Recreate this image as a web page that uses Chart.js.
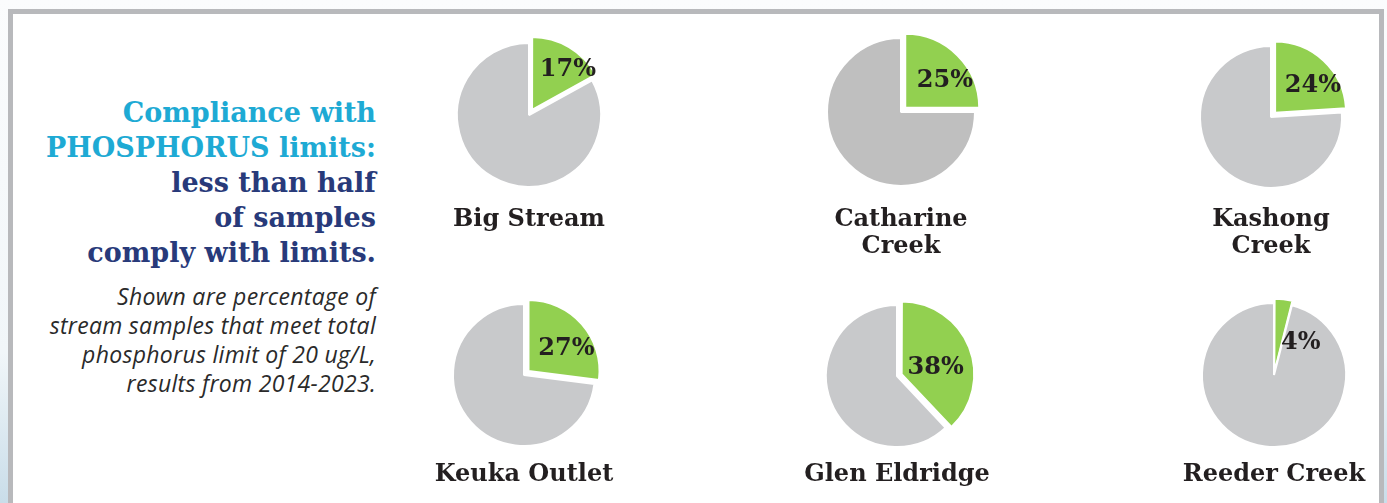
<!DOCTYPE html>
<html>
<head>
<meta charset="utf-8">
<script src="https://cdn.jsdelivr.net/npm/chart.js@4"></script>
<style>
  html, body { margin: 0; padding: 0; }
  body { width: 1387px; height: 503px; position: relative; overflow: hidden;
         background: linear-gradient(to bottom, #fbfcfd 0%, #f1f6f9 70%, #c9dde9 100%); }
  .frame { position: absolute; left: 8px; top: 9px; width: 1366px; height: 520px;
           border: 5px solid #b8b9bc; border-bottom: none; background: #fff; }
  .title { position: absolute; right: 1011px; top: 95px; text-align: right;
           font: bold 27px/35px "DejaVu Serif", "Liberation Serif", serif; color: #283a7a; white-space: pre; }
  .title .hi { color: #1eaad4; }
  .note { position: absolute; right: 1011px; top: 282px; text-align: right; letter-spacing: .3px;
          font: italic 23px/29px "Open Sans", sans-serif; color: #2a2a2a; white-space: pre; }
  .pie { position: absolute; }
  .name { position: absolute; width: 260px; text-align: center; white-space: pre-line;
          font: bold 24px/27px "DejaVu Serif", "Liberation Serif", serif; color: #231f20; }
</style>
</head>
<body>
<div class="frame"></div>
<div class="title"><span class="hi">Compliance with
PHOSPHORUS limits:</span>
less than half
of samples
comply with limits.</div>
<div class="note">Shown are percentage of
stream samples that meet total
phosphorus limit of 20 ug/L,
results from 2014-2023.</div>
<div id="pies"></div>
<script>
/* Share of stream samples meeting the 20 ug/L total phosphorus limit, 2014-2023 */
const sites = ['Big Stream', 'Catharine\nCreek', 'Kashong\nCreek', 'Keuka Outlet', 'Glen Eldridge', 'Reeder Creek'];
const compliant = [17, 25, 24, 27, 38, 4];

const GREEN = '#92d050';
const GREY = '#c8c9cb';

// pie centre, radius, slice pull-out and name position per site
const layout = [
  { x: 529, y: 115, r: 72, off: 24, ny: 204 },
  { x: 901, y: 112, r: 74, off: 24, ny: 204, grey: '#bfbfbf' },
  { x: 1271, y: 117, r: 71, off: 24, ny: 204 },
  { x: 524, y: 375, r: 71, off: 24, ny: 459 },
  { x: 897, y: 376, r: 71, off: 20, ny: 459 },
  { x: 1274, y: 375, r: 72, off: 10, ny: 459 }
];

const SIZE = 190;
const DEG = Math.PI / 180;

// percentage text inside the green slice (or just beside it when the slice is too thin)
const pctLabel = {
  id: 'pctLabel',
  afterDatasetsDraw(chart) {
    const arc = chart.getDatasetMeta(0).data[0];
    const val = chart.data.datasets[0].data[0];
    const mid = (arc.startAngle + arc.endAngle) / 2 + Math.PI / 2;
    const a = Math.max(mid + 10 * DEG, 40 * DEG);
    const d = arc.outerRadius * (val < 10 ? 0.58 : 1.05 - 0.013 * val);
    const ctx = chart.ctx;
    ctx.save();
    ctx.font = 'bold 24px "DejaVu Serif", "Liberation Serif", serif';
    ctx.fillStyle = '#231f20';
    ctx.textAlign = 'center';
    ctx.textBaseline = 'middle';
    ctx.fillText(val + '%', arc.x + Math.sin(a) * d, arc.y - Math.cos(a) * d);
    ctx.restore();
  }
};

const host = document.getElementById('pies');
sites.forEach((name, i) => {
  const L = layout[i];
  const cv = document.createElement('canvas');
  cv.className = 'pie';
  cv.width = SIZE; cv.height = SIZE;
  cv.style.left = (L.x - SIZE / 2) + 'px';
  cv.style.top = (L.y - SIZE / 2) + 'px';
  host.appendChild(cv);

  const lbl = document.createElement('div');
  lbl.className = 'name';
  lbl.textContent = name;
  lbl.style.left = (L.x - 130) + 'px';
  lbl.style.top = L.ny + 'px';
  host.appendChild(lbl);

  new Chart(cv, {
    type: 'pie',
    data: {
      labels: ['Comply', 'Exceed'],
      datasets: [{
        data: [compliant[i], 100 - compliant[i]],
        backgroundColor: [GREEN, L.grey || GREY],
        borderColor: '#ffffff',
        borderWidth: 2,
        offset: [L.off, 0]   // arc draws offset/4, so ~6px pull-out
      }]
    },
    options: {
      responsive: false, animation: false, radius: L.r,
      events: [],
      plugins: { legend: { display: false }, tooltip: { enabled: false } }
    },
    plugins: [pctLabel]
  });
});
</script>
</body>
</html>
